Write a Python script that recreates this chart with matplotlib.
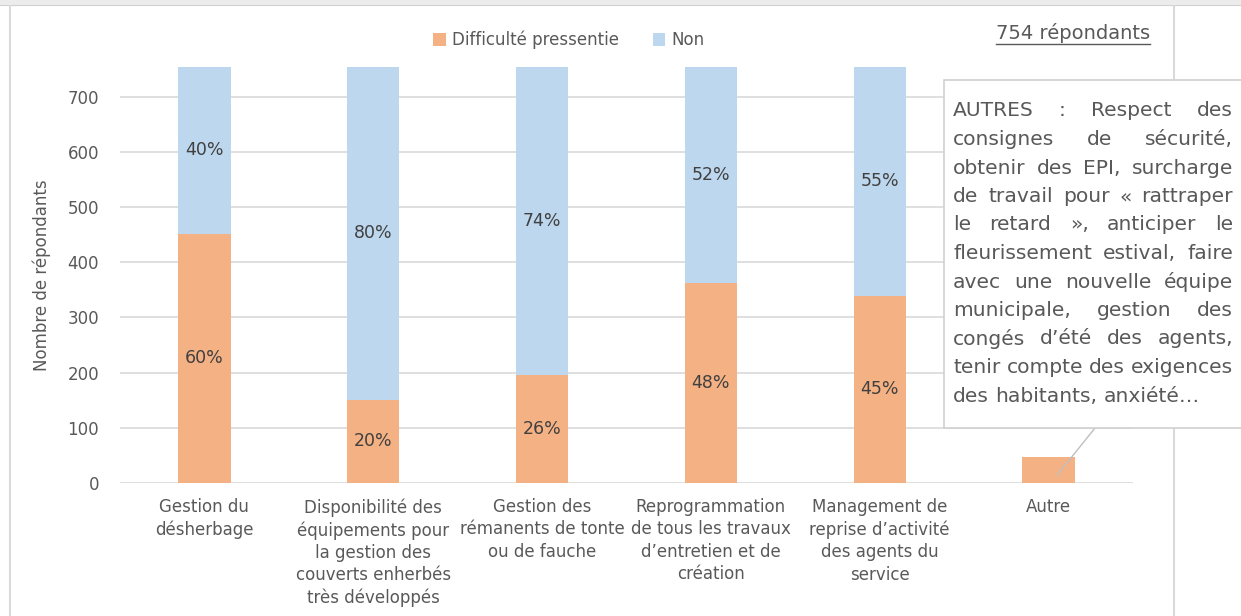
import matplotlib
matplotlib.use("Agg")
import matplotlib.pyplot as plt
from matplotlib.patches import Rectangle
from matplotlib.lines import Line2D
from matplotlib import font_manager

# ---- data -------------------------------------------------------------
categories = [
    "Gestion du\ndésherbage",
    "Disponibilité des\néquipements pour\nla gestion des\ncouverts enherbés\ntrès développés",
    "Gestion des\nrémanents de tonte\nou de fauche",
    "Reprogrammation\nde tous les travaux\nd’entretien et de\ncréation",
    "Management de\nreprise d’activité\ndes agents du\nservice",
    "Autre",
]
difficulte = [452, 151, 196, 362, 339, 47]
non = [302, 603, 558, 392, 415, 0]
total_repondants = 754
series_names = ["Difficulté pressentie", "Non"]
yticks = [0, 100, 200, 300, 400, 500, 600, 700]

autres_lines = [
    "AUTRES : Respect des",
    "consignes de sécurité,",
    "obtenir des EPI, surcharge",
    "de travail pour « rattraper",
    "le retard », anticiper le",
    "fleurissement estival, faire",
    "avec une nouvelle équipe",
    "municipale, gestion des",
    "congés d’été des agents,",
    "tenir compte des exigences",
    "des habitants, anxiété…",
]

# ---- style ------------------------------------------------------------
available = {f.name for f in font_manager.fontManager.ttflist}
family = "Liberation Sans Narrow" if "Liberation Sans Narrow" in available else "DejaVu Sans"
plt.rcParams["font.family"] = [family, "DejaVu Sans"]

ORANGE = "#F4B183"
BLUE = "#BDD7EE"
TEXT = "#595959"
LABEL = "#404040"
GRID = "#D9D9D9"

W, H = 1241, 616
fig = plt.figure(figsize=(W / 100, H / 100), dpi=100)
fig.patch.set_facecolor("white")


def fx(px):
    return px / W


def fy(py):
    return 1 - py / H


ax = fig.add_axes([fx(120), fy(483), fx(1133) - fx(120), fy(67) - fy(483)])
x = list(range(len(categories)))
bw = 0.31
ax.bar(x, difficulte, bw, color=ORANGE, label=series_names[0], zorder=2)
ax.bar(x, non, bw, bottom=difficulte, color=BLUE, label=series_names[1], zorder=2)

for i, (d, n) in enumerate(zip(difficulte, non)):
    if n == 0:
        continue
    ax.text(i, d / 2, f"{round(100 * d / total_repondants)}%", ha="center",
            va="center", fontsize=12.5, color=LABEL, zorder=3)
    ax.text(i, d + n / 2, f"{round(100 * n / total_repondants)}%", ha="center",
            va="center", fontsize=12.5, color=LABEL, zorder=3)

ax.set_xlim(-0.5, len(categories) - 0.5)
ax.set_ylim(0, total_repondants)
ax.set_yticks(yticks)
ax.set_xticks(x)
ax.set_xticklabels(categories, fontsize=12, color=TEXT, linespacing=1.3)
ax.tick_params(axis="both", length=0, labelsize=12, labelcolor=TEXT)
ax.tick_params(axis="y", pad=15)
ax.tick_params(axis="x", pad=11)
ax.yaxis.grid(True, color=GRID, linewidth=1.2, zorder=0)
ax.set_axisbelow(True)
for s in ax.spines.values():
    s.set_visible(False)
ax.set_ylabel("Nombre de répondants", fontsize=12, color=TEXT)
ax.yaxis.set_label_coords(-(120 - 51) / (1133 - 120), 0.5)

# legend
leg = fig.legend(loc="center", bbox_to_anchor=(fx(569), fy(40)), ncol=2,
                 frameon=False, fontsize=12, handlelength=0.75, handleheight=0.75,
                 handletextpad=0.4, columnspacing=2.0)
for t in leg.get_texts():
    t.set_color(TEXT)

# outer frame
fig.patches.append(Rectangle((0, fy(5)), 1, fy(0) - fy(5), transform=fig.transFigure,
                             facecolor="#ECECEC", edgecolor="none", zorder=1))
fig.lines.append(Line2D([0, 1], [fy(5), fy(5)], transform=fig.transFigure,
                        color="#CFCFCF", linewidth=1.5, zorder=1))
fig.lines.append(Line2D([fx(10), fx(10)], [0, fy(5)], transform=fig.transFigure,
                        color="#DADADA", linewidth=1.5, zorder=1))
fig.lines.append(Line2D([fx(1174), fx(1174)], [0, fy(5)], transform=fig.transFigure,
                        color="#D9D9D9", linewidth=1.5, zorder=1))

# total respondents, underlined
tot = fig.text(fx(1150), fy(33), f"{total_repondants} répondants", ha="right",
               va="center", fontsize=14, color=TEXT)

# annotation box for "Autre"
fig.patches.append(Rectangle((fx(944), fy(428)), fx(1260) - fx(944), fy(80) - fy(428),
                             transform=fig.transFigure, facecolor="white",
                             edgecolor="#D0D0D0", linewidth=1.2, zorder=3))
ax.annotate("", xy=(5.05, difficulte[-1] * 0.3), xycoords="data",
            xytext=(fx(1095), fy(428)), textcoords="figure fraction",
            arrowprops=dict(arrowstyle="-", color="#BFBFBF", linewidth=1.0,
                            shrinkA=0, shrinkB=0), zorder=3)

fig.canvas.draw()
renderer = fig.canvas.get_renderer()

bb = tot.get_window_extent(renderer)
fig.lines.append(Line2D([bb.x0 / W, bb.x1 / W], [bb.y0 / H - 1.0 / H] * 2,
                        transform=fig.transFigure, color=TEXT, linewidth=1.0))

# justified paragraph inside the box
BOX_FS = 14.6
x0, x1 = 953, 1233
line_h = 28.5
probe2 = fig.text(0, 0, "a a", fontsize=BOX_FS)
probe1 = fig.text(0, 0, "aa", fontsize=BOX_FS)
space = probe2.get_window_extent(renderer).width - probe1.get_window_extent(renderer).width
probe2.remove()
probe1.remove()
for li, line in enumerate(autres_lines):
    yc = fy(111 + li * line_h)
    words = line.split(" ")
    texts = [fig.text(0, yc, w, ha="left", va="center", fontsize=BOX_FS, color=TEXT,
                      zorder=4) for w in words]
    widths = [t.get_window_extent(renderer).width for t in texts]
    last = li == len(autres_lines) - 1
    if last or len(words) == 1:
        gap = space
    else:
        gap = (x1 - x0 - sum(widths)) / (len(words) - 1)
    cur = x0
    for t, w in zip(texts, widths):
        t.set_x(fx(cur))
        cur += w + gap

fig.savefig("out.png", dpi=100, facecolor="white")
